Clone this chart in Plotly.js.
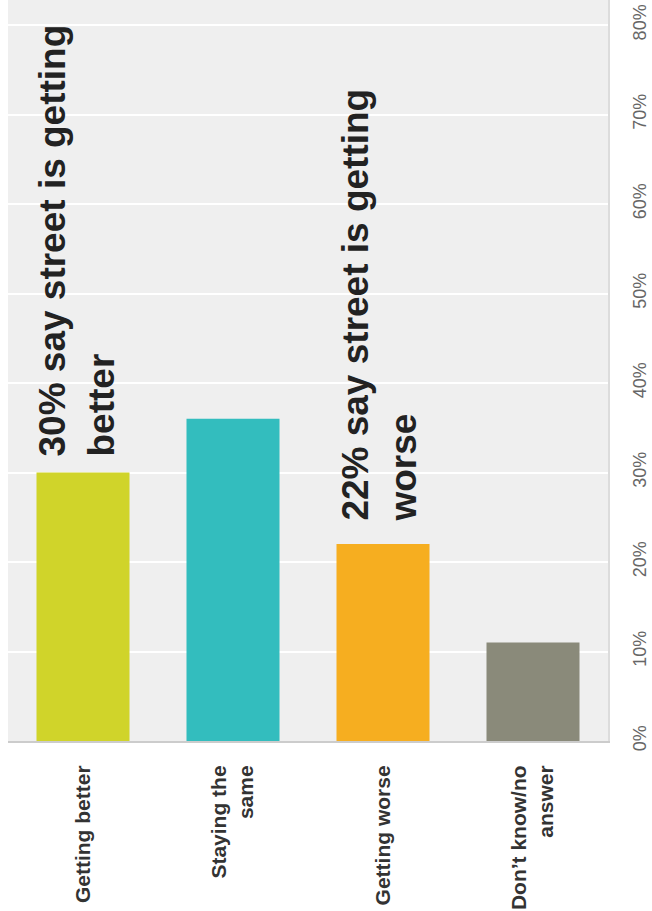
<!DOCTYPE html>
<html>
<head>
<meta charset="utf-8">
<script src="https://cdn.plot.ly/plotly-3.0.1.min.js"></script>
<style>html,body{margin:0;padding:0;background:#fff;}#chart{width:652px;height:911px;}</style>
</head>
<body>
<div id="chart"></div>
<script>
const categories = ["Getting better", "Staying the<br>same", "Getting worse", "Don’t know/no<br>answer"];
const values = [30, 36, 22, 11];
const barColors = ["#d0d42a", "#33bdbe", "#f6ae20", "#8a8a7a"];
const yTickVals = [0, 10, 20, 30, 40, 50, 60, 70, 80];
const yTickText = ["0%", "10%", "20%", "30%", "40%", "50%", "60%", "70%", "80%"];
const noteText = ["<b>30% say street is getting<br>better</b>", "<b>22% say street is getting<br>worse</b>"];
const noteCats = [0, 2];

const trace = {
  type: "bar",
  x: categories,
  y: values,
  marker: {color: barColors, line: {width: 0}},
  hoverinfo: "none"
};

const annotations = noteCats.map((ci, k) => ({
  xref: "x", yref: "y",
  x: categories[ci], y: values[ci],
  xanchor: "center", yanchor: "bottom",
  xshift: k === 0 ? -6 : -3,
  yshift: k === 0 ? 14 : 20,
  text: noteText[k],
  textangle: -90,
  align: "left",
  showarrow: false,
  font: {family: "Liberation Sans, Arial, sans-serif", size: 37, color: "#222"}
}));

const layout = {
  width: 652, height: 911,
  margin: {l: 8, r: 44, t: 0, b: 170},
  paper_bgcolor: "#ffffff",
  plot_bgcolor: "#efefef",
  bargap: 0.38,
  showlegend: false,
  xaxis: {
    type: "category",
    tickangle: -90,
    ticks: "",
    ticklabelstandoff: 14,
    tickfont: {family: "Liberation Sans, Arial, sans-serif", size: 21, color: "#333", weight: "bold"},
    showline: true, linecolor: "#cccccc", linewidth: 2,
    showgrid: false, zeroline: false, fixedrange: true
  },
  yaxis: {
    range: [0, 82.8],
    side: "right",
    tickvals: yTickVals,
    ticktext: yTickText,
    tickangle: -90,
    ticks: "",
    ticklabelstandoff: 14,
    tickfont: {family: "Liberation Sans, Arial, sans-serif", size: 18, color: "#666"},
    showgrid: true, gridcolor: "#ffffff", gridwidth: 2,
    zeroline: false,
    showline: true, linecolor: "#dcdcdc", linewidth: 2, mirror: false,
    fixedrange: true
  },
  annotations: annotations
};

Plotly.newPlot("chart", [trace], layout, {displayModeBar: false, staticPlot: true});
</script>
</body>
</html>
